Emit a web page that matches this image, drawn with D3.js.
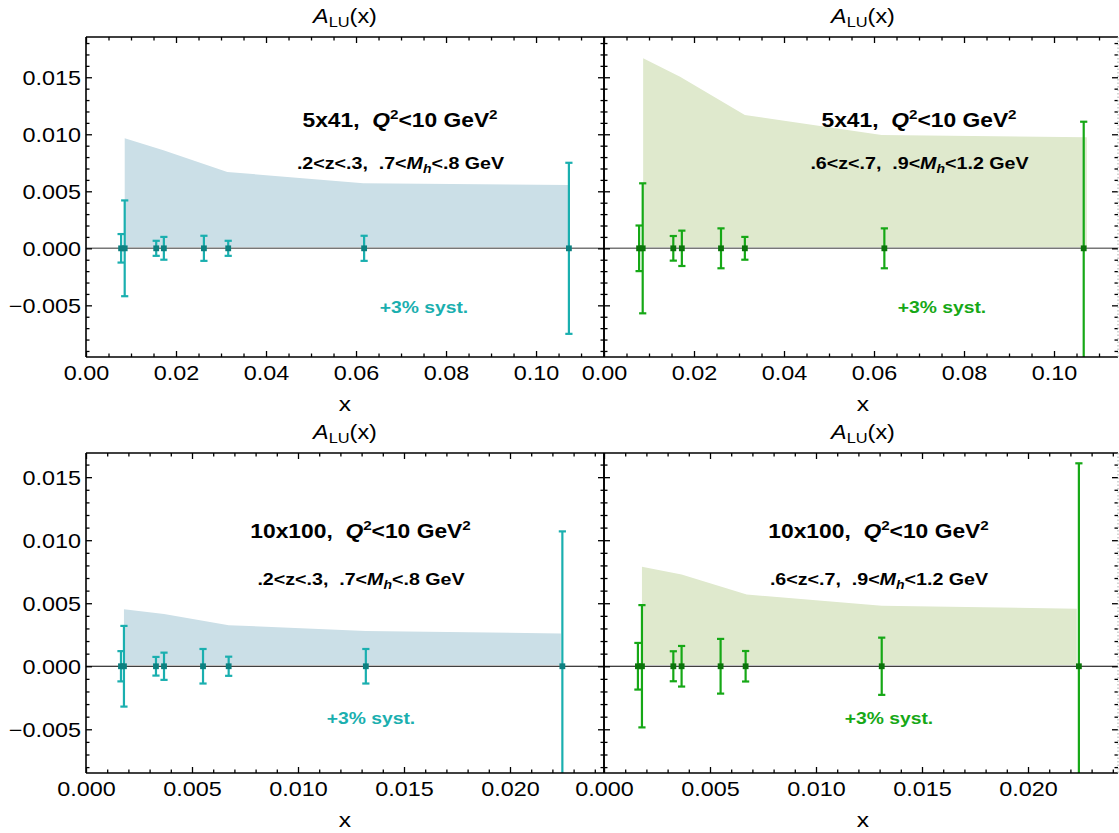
<!DOCTYPE html>
<html>
<head>
<meta charset="utf-8">
<script src="https://cdn.jsdelivr.net/npm/d3@7"></script>
<style>
  html, body { margin: 0; padding: 0; background: #fff; }
  svg { display: block; }
</style>
</head>
<body>
<svg id="chart" width="1119" height="833"></svg>
<script>
// ---------------- DATA ----------------
// Top-left: 5x41, .2<z<.3, .7<Mh<.8 GeV
const xTL = [0.0078, 0.0086, 0.0156, 0.0173, 0.0262, 0.0316, 0.0618, 0.1073];
const yTL = [0, 0, 0, 0, 0, 0, 0, 0];
const eTL = [0.00125, 0.0042, 0.00066, 0.0010, 0.0011, 0.00066, 0.0011, 0.0075];
const bandXTL = [0.0086, 0.0172, 0.0314, 0.0616, 0.1072];
const bandTL = [0.00965, 0.0086, 0.0067, 0.0057, 0.00555];

// Top-right: 5x41, .6<z<.7, .9<Mh<1.2 GeV
const xTR = [0.0078, 0.0086, 0.0154, 0.0173, 0.0260, 0.0313, 0.0623, 0.1066];
const yTR = [0, 0, 0, 0, 0, 0, 0, 0];
const eTR = [0.0020, 0.0057, 0.00108, 0.00155, 0.00175, 0.0010, 0.00175, 0.0111];
const bandXTR = [0.0087, 0.0169, 0.0313, 0.0617, 0.1073];
const bandTR = [0.01667, 0.01505, 0.0117, 0.00994, 0.00974];

// Bottom-left: 10x100, .2<z<.3, .7<Mh<.8 GeV
const xBL = [0.00165, 0.00179, 0.0033, 0.00368, 0.00552, 0.00673, 0.0132, 0.02247];
const yBL = [0, 0, 0, 0, 0, 0, 0, 0];
const eBL = [0.0012, 0.0032, 0.00074, 0.00108, 0.00137, 0.00076, 0.00137, 0.0107];
const bandXBL = [0.00179, 0.00368, 0.00673, 0.0132, 0.0224];
const bandBL = [0.00453, 0.00415, 0.00326, 0.0028, 0.0026];

// Bottom-right: 10x100, .6<z<.7, .9<Mh<1.2 GeV
const xBR = [0.0016, 0.00179, 0.00327, 0.00366, 0.0055, 0.00668, 0.0131, 0.0224];
const yBR = [0, 0, 0, 0, 0, 0, 0, 0];
const eBR = [0.00185, 0.00485, 0.00119, 0.00161, 0.00217, 0.00121, 0.00227, 0.0161];
const bandXBR = [0.00179, 0.00366, 0.00673, 0.0131, 0.0223];
const bandBR = [0.0079, 0.00727, 0.00569, 0.00481, 0.00457];

const bandLow = 0.0001;

// tick values
const xMajorTop = [0, 0.02, 0.04, 0.06, 0.08, 0.10];
const xMinorTop = [0.005, 0.01, 0.015, 0.025, 0.03, 0.035, 0.045, 0.05, 0.055, 0.065, 0.07, 0.075, 0.085, 0.09, 0.095, 0.105, 0.11];
const xMajorBot = [0, 0.005, 0.010, 0.015, 0.020];
const xMinorBot = [0.001, 0.002, 0.003, 0.004, 0.006, 0.007, 0.008, 0.009, 0.011, 0.012, 0.013, 0.014, 0.016, 0.017, 0.018, 0.019, 0.021, 0.022, 0.023, 0.024];
const yMajor = [-0.005, 0, 0.005, 0.010, 0.015];
const yMinor = [-0.009, -0.008, -0.007, -0.006, -0.004, -0.003, -0.002, -0.001,
  0.001, 0.002, 0.003, 0.004, 0.006, 0.007, 0.008, 0.009, 0.011, 0.012, 0.013, 0.014, 0.016, 0.017, 0.018];

// ---------------- STYLE / LAYOUT ----------------
const FONT = "'Liberation Sans', Arial, Helvetica, sans-serif";
const SX = 1.17; // horizontal text stretch of the reference
const BLUE_BAND = "#cbdfe7", GREEN_BAND = "#dfe9cd";
const TEAL = "#1aafaf", TEAL_DARK = "#0d8080";
const GREEN = "#16a816", GREEN_DARK = "#0b730b";

const panels = [
  { left: 86, top: 37, width: 518, height: 320, xMax: 0.1151, yMin: -0.00953, yMax: 0.01853,
    xs: xTL, ys: yTL, es: eTL, bx: bandXTL, by: bandTL, band: BLUE_BAND, col: TEAL, dark: TEAL_DARK,
    xMaj: xMajorTop, xMin: xMinorTop, xFmt: ".2f", yLabels: true, zero: "#777", zeroW: 1.4,
    main: "5x41,", sub: [".2<z<.3,\u00a0\u00a0.7<", "<.8 GeV"], mainDx: 314, mainY: 126.7, subY: 169.3, systDx: 338, systY: 313 },
  { left: 604, top: 37, width: 514, height: 320, xMax: 0.11422, yMin: -0.00953, yMax: 0.01853,
    xs: xTR, ys: yTR, es: eTR, bx: bandXTR, by: bandTR, band: GREEN_BAND, col: GREEN, dark: GREEN_DARK,
    xMaj: xMajorTop, xMin: xMinorTop, xFmt: ".2f", yLabels: false, zero: "#777", zeroW: 1.4,
    main: "5x41,", sub: [".6<z<.7,\u00a0\u00a0.9<", "<1.2 GeV"], mainDx: 315, mainY: 126.7, subY: 169.3, systDx: 338, systY: 313 },
  { left: 86, top: 453, width: 518, height: 320, xMax: 0.024434, yMin: -0.008468, yMax: 0.016918,
    xs: xBL, ys: yBL, es: eBL, bx: bandXBL, by: bandBL, band: BLUE_BAND, col: TEAL, dark: TEAL_DARK,
    xMaj: xMajorBot, xMin: xMinorBot, xFmt: ".3f", yLabels: true, zero: "#000", zeroW: 1.1,
    main: "10x100,", sub: [".2<z<.3,\u00a0\u00a0.7<", "<.8 GeV"], mainDx: 274.5, mainY: 538, subY: 584.7, systDx: 285, systY: 724 },
  { left: 604, top: 453, width: 514, height: 320, xMax: 0.024245, yMin: -0.008468, yMax: 0.016918,
    xs: xBR, ys: yBR, es: eBR, bx: bandXBR, by: bandBR, band: GREEN_BAND, col: GREEN, dark: GREEN_DARK,
    xMaj: xMajorBot, xMin: xMinorBot, xFmt: ".3f", yLabels: false, zero: "#000", zeroW: 1.1,
    main: "10x100,", sub: [".6<z<.7,\u00a0\u00a0.9<", "<1.2 GeV"], mainDx: 274.5, mainY: 538, subY: 584.7, systDx: 285, systY: 724 }
];

const svg = d3.select("#chart");
svg.append("rect").attr("width", 1119).attr("height", 833).attr("fill", "#fff");

function stretchText(sel, x, y) {
  return sel.attr("transform", `translate(${x},${y}) scale(${SX},1)`);
}

panels.forEach((p, i) => {
  const x = d3.scaleLinear().domain([0, p.xMax]).range([p.left, p.left + p.width]);
  const y = d3.scaleLinear().domain([p.yMin, p.yMax]).range([p.top + p.height, p.top]);
  const inX = v => v >= 0 && v <= p.xMax;
  const inY = v => v >= p.yMin && v <= p.yMax;
  const g = svg.append("g");

  const clipId = "clip" + i;
  svg.append("defs").append("clipPath").attr("id", clipId)
    .append("rect").attr("x", p.left).attr("y", p.top).attr("width", p.width).attr("height", p.height);
  const plot = g.append("g").attr("clip-path", `url(#${clipId})`);

  // band
  const bandData = p.bx.map((v, k) => ({ x: v, hi: p.by[k] }));
  plot.append("path").datum(bandData)
    .attr("fill", p.band)
    .attr("d", d3.area().x(d => x(d.x)).y0(() => y(bandLow)).y1(d => y(d.hi)));

  // zero line
  plot.append("line")
    .attr("x1", p.left).attr("x2", p.left + p.width)
    .attr("y1", y(0)).attr("y2", y(0))
    .attr("stroke", p.zero).attr("stroke-width", p.zeroW);

  // error bars
  const pts = p.xs.map((v, k) => ({ x: v, y: p.ys[k], e: p.es[k] }));
  const eb = plot.append("g").attr("stroke", p.col).attr("stroke-width", 2.2).attr("fill", "none");
  pts.forEach(d => {
    const cx = x(d.x);
    eb.append("line").attr("x1", cx).attr("x2", cx).attr("y1", y(d.y - d.e)).attr("y2", y(d.y + d.e));
    eb.append("line").attr("x1", cx - 3.6).attr("x2", cx + 3.6).attr("y1", y(d.y + d.e)).attr("y2", y(d.y + d.e));
    eb.append("line").attr("x1", cx - 3.6).attr("x2", cx + 3.6).attr("y1", y(d.y - d.e)).attr("y2", y(d.y - d.e));
  });
  plot.append("g").selectAll("rect").data(pts).join("rect")
    .attr("x", d => x(d.x) - 2.9).attr("y", d => y(d.y) - 2.9)
    .attr("width", 5.8).attr("height", 5.8).attr("fill", p.dark);

  // axes (ticks inward)
  const styleAxis = (ag) => {
    ag.select(".domain").remove();
    ag.selectAll(".tick line").attr("stroke", "#000").attr("stroke-width", 1.3);
    ag.attr("font-family", FONT).attr("font-size", 20);
    ag.selectAll("text").attr("fill", "#000");
  };
  const xMinV = p.xMin.filter(inX);
  const yMinV = yMinor.filter(inY);
  const yMajV = yMajor.filter(inY);
  const yb = p.top + p.height;
  // bottom major with labels
  const axB = g.append("g").attr("transform", `translate(0,${yb})`)
    .call(d3.axisBottom(x).tickValues(p.xMaj).tickSize(-6).tickPadding(0).tickFormat(d3.format(p.xFmt)));
  styleAxis(axB);
  axB.selectAll("text").attr("y", 0).attr("dy", null).attr("transform", `translate(0,23) scale(${SX},1)`);
  const axBm = g.append("g").attr("transform", `translate(0,${yb})`)
    .call(d3.axisBottom(x).tickValues(xMinV).tickSize(-3.5).tickFormat(""));
  styleAxis(axBm);
  // top
  const axT = g.append("g").attr("transform", `translate(0,${p.top})`)
    .call(d3.axisTop(x).tickValues(p.xMaj).tickSize(-6).tickFormat(""));
  styleAxis(axT);
  const axTm = g.append("g").attr("transform", `translate(0,${p.top})`)
    .call(d3.axisTop(x).tickValues(xMinV).tickSize(-3.5).tickFormat(""));
  styleAxis(axTm);
  // left
  const axL = g.append("g").attr("transform", `translate(${p.left},0)`)
    .call(d3.axisLeft(y).tickValues(yMajV).tickSize(-6).tickPadding(0)
      .tickFormat(p.yLabels ? d3.format(".3f") : ""));
  styleAxis(axL);
  axL.selectAll("text").attr("x", 0).attr("dy", "0.36em").attr("transform", `translate(-5,0) scale(${SX},1)`);
  const axLm = g.append("g").attr("transform", `translate(${p.left},0)`)
    .call(d3.axisLeft(y).tickValues(yMinV).tickSize(-3.5).tickFormat(""));
  styleAxis(axLm);
  // right
  const xr = p.left + p.width;
  const axR = g.append("g").attr("transform", `translate(${xr},0)`)
    .call(d3.axisRight(y).tickValues(yMajV).tickSize(-6).tickFormat(""));
  styleAxis(axR);
  const axRm = g.append("g").attr("transform", `translate(${xr},0)`)
    .call(d3.axisRight(y).tickValues(yMinV).tickSize(-3.5).tickFormat(""));
  styleAxis(axRm);

  // frame
  const isRightPanel = p.left > 300;
  g.append("line").attr("x1", p.left).attr("x2", xr).attr("y1", p.top).attr("y2", p.top).attr("stroke", "#000").attr("stroke-width", 1.6);
  g.append("line").attr("x1", p.left).attr("x2", xr).attr("y1", yb).attr("y2", yb).attr("stroke", "#000").attr("stroke-width", 1.6);
  g.append("line").attr("x1", p.left).attr("x2", p.left).attr("y1", p.top).attr("y2", yb).attr("stroke", "#000").attr("stroke-width", 1.6);
  g.append("line").attr("x1", xr).attr("x2", xr).attr("y1", p.top).attr("y2", yb)
    .attr("stroke", isRightPanel ? "#aaa" : "#000").attr("stroke-width", isRightPanel ? 1 : 1.6)
    .attr("stroke-dasharray", isRightPanel ? "1.5,2" : null);

  // title A_LU(x)
  const cx = p.left + 259;
  const t = stretchText(g.append("text"), cx, p.top - 14.5)
    .attr("font-family", FONT).attr("font-size", 20).attr("text-anchor", "middle").attr("fill", "#000");
  t.append("tspan").attr("font-style", "italic").text("A");
  t.append("tspan").attr("font-size", 14).attr("dy", 4).text("LU");
  t.append("tspan").attr("dy", -4).text("(x)");

  // x axis label
  stretchText(g.append("text"), cx, yb + 54)
    .attr("font-family", FONT).attr("font-size", 21).attr("text-anchor", "middle").attr("fill", "#000").text("x");

  // main annotation
  const m = stretchText(g.append("text"), p.left + p.mainDx, p.mainY)
    .attr("font-family", FONT).attr("font-size", 19.5).attr("font-weight", "bold")
    .attr("text-anchor", "middle").attr("fill", "#000");
  m.append("tspan").text(p.main + "\u00a0\u00a0");
  m.append("tspan").attr("font-style", "italic").text("Q");
  m.append("tspan").attr("font-size", 13).attr("dy", -8).text("2");
  m.append("tspan").attr("dy", 8).text("<10 GeV");
  m.append("tspan").attr("font-size", 13).attr("dy", -8).text("2");

  // sub annotation
  const s = stretchText(g.append("text"), p.left + p.mainDx + 0.5, p.subY)
    .attr("font-family", FONT).attr("font-size", 16.8).attr("font-weight", "bold")
    .attr("text-anchor", "middle").attr("fill", "#000");
  s.append("tspan").text(p.sub[0]);
  s.append("tspan").attr("font-style", "italic").text("M");
  s.append("tspan").attr("font-style", "italic").attr("font-size", 12).attr("dy", 4).text("h");
  s.append("tspan").attr("dy", -4).text(p.sub[1]);

  // syst annotation
  stretchText(g.append("text"), p.left + p.systDx, p.systY)
    .attr("font-family", FONT).attr("font-size", 16.5).attr("font-weight", "bold")
    .attr("text-anchor", "middle").attr("fill", p.col).text("+3% syst.");
});
</script>
</body>
</html>
